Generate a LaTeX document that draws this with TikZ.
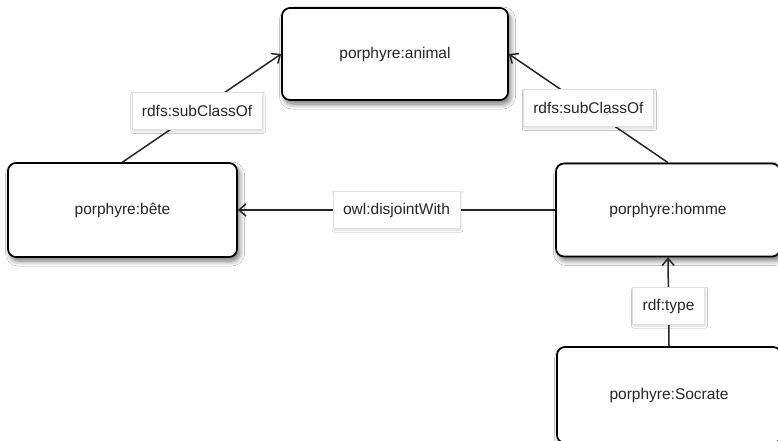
\documentclass[tikz,border=0pt]{standalone}
\usepackage{fontspec}
\setmainfont{Liberation Sans}
\usetikzlibrary{arrows.meta,shadows.blur}
\begin{document}
\begin{tikzpicture}[x=1pt,y=-1pt,
  cls/.style={draw=black, line width=1.7pt, rounded corners=8pt, fill=white,
    blur shadow={shadow xshift=2.5pt, shadow yshift=-4pt, shadow blur steps=8, shadow blur radius=5pt, shadow opacity=55},
    font=\fontsize{15.5}{18}\selectfont, text=black!85, inner sep=0pt},
  lbl/.style={draw=black!12, line width=0.7pt, fill=white,
    blur shadow={shadow xshift=1pt, shadow yshift=-1.5pt, shadow blur steps=4, shadow blur radius=2pt, shadow opacity=15},
    font=\fontsize{15.5}{18}\selectfont, text=black!85, minimum height=37pt, inner xsep=10pt, inner ysep=0pt},
  rel/.style={draw=black!85, line width=1.5pt, -{Straight Barb[length=7pt,width=12pt,line width=1.5pt]}}
]
\clip (0,0) rectangle (778,441);
\fill[white] (0,0) rectangle (778,441);
\node[cls, minimum width=226pt, minimum height=92pt] (animal) at (395,54) {porphyre:animal};
\node[cls, minimum width=229pt, minimum height=94pt] (bete) at (122.5,210) {porphyre:bête};
\node[cls, minimum width=224pt, minimum height=93pt] (homme) at (668,210) {porphyre:homme};
\node[cls, minimum width=224pt, minimum height=96pt] (socrate) at (669,395) {porphyre:Socrate};
\draw[rel] (bete.north) -- node[lbl, pos=0.47] (l1) {rdfs:subClassOf} (animal.west);
\draw[rel] (homme.north) -- node[lbl, pos=0.5] (l2) {rdfs:subClassOf} (animal.east);
\draw[rel] (homme.west) -- node[lbl] (l3) {owl:disjointWith} (bete.east);
\draw[rel] (socrate.north) -- node[lbl, pos=0.45] (l4) {rdf:type} (homme.south);
\end{tikzpicture}
\end{document}
